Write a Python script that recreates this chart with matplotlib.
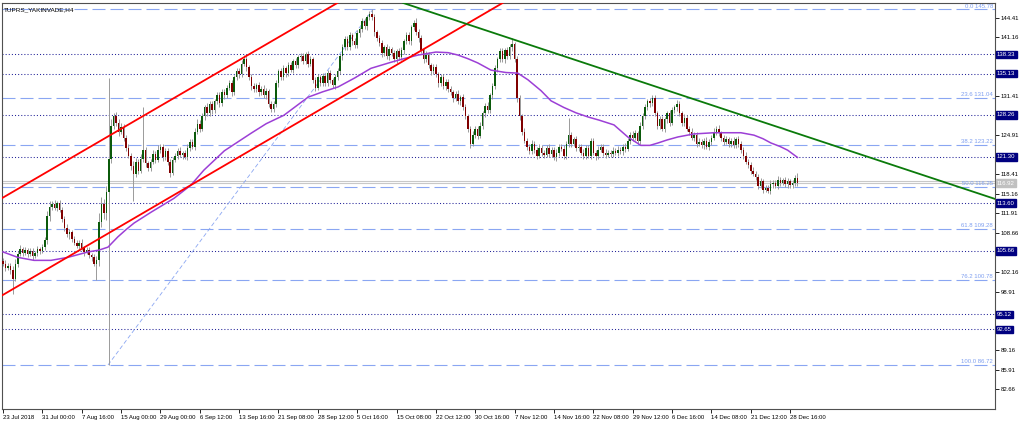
import matplotlib
matplotlib.use("Agg")
import matplotlib.pyplot as plt
import matplotlib.transforms as mtransforms

plt.rcParams['font.family'] = ['Liberation Sans', 'DejaVu Sans']

title = "TUPRS_YAKINVADE,H4"
first_open = 104.0
closes = [
    103.5, 102.8, 103.2, 102.5, 101.0, 103.5, 105.2, 106.0, 105.4, 105.8,
    105.2, 105.6, 104.8, 105.3, 106.0, 105.7, 106.3, 107.4, 111.5, 113.0,
    113.5, 112.8, 113.6, 112.5, 111.0, 109.5, 108.4, 108.8, 107.6, 107.0,
    106.5, 107.0, 106.2, 105.5, 105.8, 105.0, 104.6, 103.5, 104.2, 110.5,
    113.5, 112.0, 115.5, 121.0, 126.5, 128.0, 127.0, 125.5, 126.2, 124.5,
    122.8, 121.5, 119.8, 118.5, 120.5, 119.0, 121.0, 122.5, 120.2, 119.5,
    120.5, 121.8, 120.8, 122.5, 123.0, 121.2, 122.2, 120.5, 118.6, 120.8,
    121.5, 122.3, 121.6, 122.0, 121.3, 122.8, 123.8, 123.0, 125.5, 126.8,
    126.0, 128.0, 129.5, 128.5, 130.0, 129.0, 130.5, 131.5, 130.2, 132.0,
    131.5, 132.8, 133.5, 132.0, 134.5, 135.5, 135.0, 136.8, 137.5, 136.2,
    134.5, 133.0, 132.5, 133.2, 132.0, 132.6, 131.5, 132.2, 130.0, 129.3,
    130.0, 133.5, 135.5, 134.5, 136.0, 135.2, 136.5, 135.8, 137.2, 136.5,
    137.8, 138.0, 137.2, 138.3, 136.8, 137.5, 134.0, 132.8, 134.5, 133.5,
    134.8, 133.6, 135.2, 134.0, 133.2, 134.5, 135.5, 138.0, 139.5, 140.8,
    139.5, 141.5, 140.5, 139.8, 141.8, 142.5, 143.8, 143.0, 144.5, 145.0,
    144.5, 142.0, 141.0, 140.2, 138.5, 139.5, 138.0, 139.2, 138.5, 137.5,
    138.8, 137.8, 139.0, 140.5, 141.5, 140.5, 142.8, 143.5, 142.0, 141.0,
    139.0, 137.5, 138.2, 136.5, 135.5, 136.2, 135.0, 133.5, 134.5, 133.0,
    133.8, 132.5, 132.0, 131.0, 131.8, 130.5, 131.2, 129.5, 128.0, 126.0,
    123.5, 125.0, 126.0, 124.8, 126.5, 128.5, 129.8, 129.0, 131.5, 133.0,
    136.0, 137.5, 138.8, 137.5, 139.0, 138.0, 139.5, 140.0, 137.5, 131.0,
    128.0, 125.5, 124.0, 123.0, 122.2, 123.5, 122.5, 121.5, 122.8, 122.0,
    121.6, 122.8, 121.8, 122.5, 121.2, 122.0, 123.0, 122.6, 121.5, 123.5,
    125.0, 123.5, 124.2, 122.8, 123.0, 122.0, 121.5, 122.8, 121.5, 124.0,
    122.0, 121.4, 122.5, 123.0, 122.0, 121.6, 122.0, 121.8, 122.3, 122.0,
    122.5, 122.2, 123.0, 122.6, 124.0, 125.0, 124.5, 125.2, 124.0, 126.5,
    128.0, 129.5, 130.5, 130.2, 131.0, 128.5, 126.5, 127.5, 126.0, 127.5,
    128.5, 127.0, 129.0, 129.5, 130.0, 128.5, 127.0, 127.8, 126.0, 125.5,
    124.5, 125.0, 123.5, 123.8, 123.2, 124.0, 123.0, 123.8, 124.5, 125.5,
    126.0, 125.2, 124.5, 123.8, 124.2, 123.5, 124.0, 123.2, 124.2, 123.5,
    122.5, 121.5, 120.5, 120.0, 119.0, 118.5, 118.0, 116.5, 117.2, 115.8,
    116.2, 115.6, 116.8, 117.0, 116.5, 117.5, 117.0, 117.4, 116.8, 117.2,
    116.6, 117.0, 117.8, 116.9,
]
upper_wicks = [
    0.5, 0.6, 0.4, 0.5, 0.6, 0.8, 0.5, 0.6, 0.4, 0.5,
    0.4, 0.6, 0.5, 0.3, 0.5, 0.4, 0.6, 0.5, 0.8, 0.9,
    0.5, 0.7, 0.3, 0.6, 0.5, 0.4, 0.6, 0.5, 0.4, 0.5,
    0.5, 0.4, 0.6, 0.3, 0.5, 0.6, 0.4, 0.5, 0.7, 1.5,
    1.2, 0.8, 0.9, 13.4, 1.0, 0.6, 0.8, 0.5, 0.7, 0.6,
    0.5, 0.6, 0.4, 0.8, 0.6, 0.5, 0.7, 7.0, 0.5, 0.4,
    0.4, 0.6, 0.5, 0.7, 0.5, 0.4, 0.6, 0.5, 0.4, 0.5,
    0.5, 0.4, 0.6, 0.3, 0.5, 0.6, 0.4, 0.5, 0.6, 0.7,
    0.6, 0.5, 0.4, 0.7, 0.5, 0.6, 0.4, 0.5, 0.6, 0.5,
    0.5, 0.4, 0.6, 0.5, 0.4, 0.6, 0.5, 0.6, 0.7, 0.5,
    0.4, 0.5, 0.6, 0.4, 0.5, 0.4, 0.6, 0.5, 0.4, 0.5,
    0.5, 0.6, 0.4, 0.5, 0.6, 0.4, 0.5, 0.6, 0.4, 0.5,
    0.4, 0.5, 0.6, 0.4, 0.5, 0.6, 0.4, 0.5, 0.6, 0.4,
    0.5, 0.4, 0.6, 0.5, 0.4, 0.6, 0.5, 0.4, 0.6, 0.5,
    0.6, 0.5, 0.4, 0.6, 0.5, 0.4, 0.6, 0.5, 0.4, 0.5,
    0.78, 0.5, 0.4, 0.6, 0.5, 0.4, 0.6, 0.5, 0.4, 0.5,
    0.4, 0.5, 0.6, 0.4, 0.5, 0.6, 0.4, 0.5, 0.9, 0.5,
    0.5, 0.4, 0.6, 0.5, 0.4, 0.6, 0.5, 0.4, 0.6, 0.5,
    0.4, 0.5, 0.6, 0.4, 0.5, 0.6, 0.4, 0.5, 0.6, 0.4,
    0.5, 0.6, 0.4, 0.5, 0.6, 0.4, 0.5, 0.6, 0.4, 0.5,
    0.6, 0.4, 0.5, 0.6, 0.4, 0.5, 0.6, 1.0, 0.4, 0.5,
    0.5, 0.4, 0.6, 0.5, 0.4, 0.6, 0.5, 0.4, 0.6, 0.5,
    0.4, 0.5, 0.6, 0.4, 0.5, 0.6, 0.4, 0.5, 0.6, 0.4,
    2.7, 0.5, 0.4, 0.6, 0.5, 0.4, 0.6, 0.5, 0.4, 0.5,
    0.5, 0.4, 0.6, 0.5, 0.4, 0.6, 0.5, 0.4, 0.6, 0.5,
    0.6, 0.5, 0.4, 0.6, 0.5, 0.4, 0.6, 0.5, 0.4, 0.6,
    0.5, 0.6, 0.4, 0.5, 0.5, 0.6, 0.4, 0.5, 0.6, 0.4,
    0.4, 0.5, 0.6, 0.4, 0.7, 0.5, 0.4, 0.6, 0.5, 0.4,
    0.6, 0.4, 0.5, 0.6, 0.4, 0.5, 0.6, 0.4, 0.5, 0.6,
    0.5, 0.6, 0.4, 0.5, 0.6, 0.4, 0.5, 0.6, 0.4, 0.5,
    0.4, 0.5, 0.6, 0.4, 0.5, 0.6, 0.4, 0.5, 0.6, 0.4,
    0.5, 0.4, 0.6, 0.5, 0.4, 0.6, 0.5, 0.4, 0.6, 0.5,
    0.4, 0.5, 0.5, 0.8,
]
lower_wicks = [
    0.4, 0.5, 0.3, 0.6, 2.5, 0.4, 0.5, 0.3, 0.6, 0.4,
    0.5, 0.4, 0.6, 0.3, 0.4, 0.5, 0.3, 0.4, 0.6, 0.8,
    0.6, 0.4, 0.5, 0.3, 0.6, 0.5, 0.4, 0.7, 0.5, 0.4,
    0.4, 0.5, 0.3, 0.6, 0.4, 0.5, 0.6, 0.4, 2.7, 1.0,
    0.8, 1.0, 1.2, 28.78, 0.8, 0.5, 0.6, 0.7, 0.4, 0.5,
    0.6, 0.4, 0.7, 4.5, 0.5, 0.6, 0.4, 0.5, 0.6, 0.5,
    0.5, 0.4, 0.6, 0.3, 0.5, 0.6, 0.4, 0.5, 0.6, 0.4,
    0.4, 0.5, 0.3, 0.6, 0.4, 0.5, 0.6, 0.4, 0.5, 0.4,
    0.5, 0.4, 0.6, 0.5, 0.4, 0.6, 0.5, 0.4, 0.7, 0.5,
    0.6, 0.5, 0.4, 0.6, 0.5, 0.4, 0.6, 0.5, 0.4, 0.6,
    0.5, 0.6, 0.4, 0.5, 0.6, 0.4, 0.5, 0.6, 0.4, 0.6,
    0.5, 0.4, 0.6, 0.5, 0.4, 0.6, 0.5, 0.4, 0.6, 0.5,
    0.5, 0.6, 0.4, 0.5, 0.6, 0.4, 0.5, 0.6, 0.4, 0.5,
    0.4, 0.5, 0.6, 0.4, 0.5, 0.6, 0.4, 0.5, 0.6, 0.4,
    0.5, 0.4, 0.6, 0.5, 0.4, 0.6, 0.5, 0.4, 0.6, 0.5,
    0.5, 0.6, 0.4, 0.5, 0.6, 0.4, 0.5, 0.6, 0.4, 0.5,
    0.6, 0.4, 0.5, 0.6, 0.4, 0.5, 0.6, 0.4, 0.5, 0.6,
    0.5, 0.6, 0.4, 0.5, 0.6, 0.4, 0.5, 0.6, 0.4, 0.5,
    0.6, 0.4, 0.5, 0.6, 0.4, 0.5, 0.6, 0.4, 0.5, 0.6,
    0.7, 0.4, 0.5, 0.6, 0.4, 0.5, 0.6, 0.4, 0.5, 0.6,
    0.5, 0.6, 0.4, 0.5, 0.6, 0.4, 0.5, 0.6, 0.4, 0.6,
    0.6, 0.5, 0.4, 0.6, 0.5, 0.4, 0.6, 0.5, 0.4, 0.6,
    0.5, 0.4, 0.6, 0.5, 0.4, 0.6, 0.5, 0.4, 0.6, 0.5,
    0.6, 0.5, 0.4, 0.6, 0.5, 0.4, 0.6, 0.5, 0.4, 0.6,
    0.4, 0.6, 0.5, 0.4, 0.6, 0.5, 0.4, 0.6, 0.5, 0.4,
    0.5, 0.4, 0.6, 0.5, 0.4, 0.6, 0.5, 0.4, 0.6, 0.5,
    0.6, 0.5, 0.4, 0.6, 0.5, 0.4, 0.6, 0.5, 0.4, 0.6,
    0.5, 0.6, 0.4, 0.5, 0.6, 0.4, 0.5, 0.6, 0.4, 0.5,
    0.4, 0.5, 0.6, 0.4, 0.5, 0.6, 0.4, 0.5, 0.6, 0.4,
    0.6, 0.4, 0.5, 0.6, 0.4, 0.5, 0.6, 0.4, 0.5, 0.6,
    0.5, 0.6, 0.4, 0.5, 0.6, 0.4, 0.5, 0.6, 0.4, 0.5,
    0.4, 0.3, 0.5, 0.6, 0.4, 0.5, 0.6, 0.4, 0.5, 0.6,
    0.5, 0.4, 0.6, 0.4,
]

# moving average (purple)
ma_bars = [0, 6, 12.6, 19.5, 26.4, 34.6, 39, 42.7, 46.7, 50, 53.3, 60.2, 69.5, 76.4, 81.7,
           90, 100.8, 107, 114.2, 124, 130, 136.2, 143, 149.6, 157.7, 163, 168.7, 176, 181,
           185, 189, 193, 198.4, 204.5, 209.3, 213.4, 218.7, 222.8, 228, 233, 238, 242.3,
           248.4, 254, 259.3, 263, 266.3, 270, 274.4, 280.9, 289, 300, 305.3, 309, 312.2,
           316, 319, 323]
ma_vals = [105.5, 104.6, 104.1, 104.1, 104.6, 105.5, 105.8, 106.3, 108.0, 109.2, 110.3, 112.1,
           114.4, 116.6, 119.1, 122.3, 125.2, 126.8, 128.2, 131.2, 132.1, 132.9, 134.4, 136.0,
           137.0, 137.6, 138.2, 138.7, 138.6, 138.2, 137.6, 136.9, 135.7, 135.3, 135.2, 134.1,
           132.3, 130.6, 129.5, 128.6, 127.9, 127.4, 126.6, 124.6, 123.2, 123.2, 123.6, 124.1,
           124.6, 125.1, 125.3, 125.3, 124.9, 124.3, 123.6, 123.0, 122.4, 121.2]

fib_levels = ["0.0", "23.6", "38.2", "50.0", "61.8", "76.2", "100.0"]
fib_prices = [145.78, 131.04, 123.22, 116.25, 109.28, 100.78, 86.72]
fib_anchor_bars = [42.7, 150.4]
fib_anchor_prices = [86.72, 145.78]

sr_levels = [138.33, 135.13, 128.26, 121.30, 113.60, 105.66, 95.12, 92.65]
sr_labels = ["138.33", "135.13", "128.26", "121.30", "113.60", "105.66", "95.12", "92.65"]

channel_upper_bars = [-0.8, 100.8]
channel_upper_prices = [114.34, 138.5]
channel_lower_bars = [-0.8, 100.8]
channel_lower_prices = [98.18, 122.43]
green_bars = [162.0, 403.7]
green_prices = [146.95, 114.25]

bid_ask = [117.35, 116.95]
current_label = "116.92"

ytick_vals = [144.41, 141.16, 137.91, 134.66, 131.41, 128.16, 124.91, 121.66, 118.41,
              115.16, 111.91, 108.66, 105.41, 102.16, 98.91, 95.66, 92.41, 89.16, 85.91, 82.66]
xtick_bars = [0, 16, 32, 48, 64, 80, 96, 112, 128, 144, 160, 176, 192, 208, 224, 240,
              256, 272, 288, 304, 320]
xtick_labels = ["23 Jul 2018", "31 Jul 00:00", "7 Aug 16:00", "15 Aug 00:00", "29 Aug 00:00",
                "6 Sep 12:00", "13 Sep 16:00", "21 Sep 08:00", "28 Sep 12:00", "5 Oct 16:00",
                "15 Oct 08:00", "22 Oct 12:00", "30 Oct 16:00", "7 Nov 12:00", "14 Nov 16:00",
                "22 Nov 08:00", "29 Nov 12:00", "6 Dec 16:00", "14 Dec 08:00", "21 Dec 12:00",
                "28 Dec 16:00"]

FS = 4.3
fig = plt.figure(figsize=(10.24, 4.22), dpi=100)
ax = fig.add_axes([2 / 1024, 13 / 422, 993 / 1024, 406 / 422])
ax.set_xlim(-0.4, 403.3)
ax.set_ylim(79.41, 146.85)

# horizontal levels
for p in fib_prices:
    ax.axhline(p, color='#8aa6f2', lw=0.8, dashes=(11.7, 4.5), zorder=1)
for p in sr_levels:
    ax.axhline(p, color='#232398', lw=0.75, dashes=(1, 2), zorder=1)
for p in bid_ask:
    ax.axhline(p, color='#c8c8c8', lw=0.8, zorder=1)

# fib diagonal
ax.plot(fib_anchor_bars, fib_anchor_prices, color='#8aa6f2', lw=0.6, dashes=(5, 3), zorder=1)

# candles
n = len(closes)
xs = list(range(n))
opens = [first_open] + closes[:-1]
highs = [max(o, c) + u for o, c, u in zip(opens, closes, upper_wicks[:n])]
lows = [min(o, c) - l for o, c, l in zip(opens, closes, lower_wicks[:n])]
ax.vlines(xs, lows, highs, color='#9a9a9a', lw=0.7, zorder=3)
bull_col, bear_col = '#0b5a0b', '#800000'
heights = [max(abs(c - o), 0.12) for o, c in zip(opens, closes)]
bottoms = [min(o, c) for o, c in zip(opens, closes)]
cols = [bull_col if c >= o else bear_col for o, c in zip(opens, closes)]
ax.bar(xs, heights, bottom=bottoms, width=0.62, color=cols, linewidth=0, zorder=4)

# moving average
ax.plot(ma_bars, ma_vals, color='#9c3fd6', lw=1.1, zorder=5)

# trend lines
ax.axline((channel_upper_bars[0], channel_upper_prices[0]), (channel_upper_bars[1], channel_upper_prices[1]),
          color='#ff0000', lw=1.3, zorder=6)
ax.axline((channel_lower_bars[0], channel_lower_prices[0]), (channel_lower_bars[1], channel_lower_prices[1]),
          color='#ff0000', lw=1.3, zorder=6)
ax.axline((green_bars[0], green_prices[0]), (green_bars[1], green_prices[1]),
          color='#0a7a0a', lw=1.3, zorder=6)

# fib labels
trans = mtransforms.blended_transform_factory(ax.transAxes, ax.transData)
for lv, p in zip(fib_levels, fib_prices):
    ax.text(0.998, p + 0.15, f"{lv} {p:.2f}", transform=trans, ha='right', va='bottom',
            fontsize=FS, color='#7f9ff0', zorder=7)

# axes styling: right price scale, tick labels hidden under level boxes are left out
box_levels = sr_levels + [bid_ask[1]]
ytick_text = []
for v in ytick_vals:
    covered = any(abs(v - b) < 1.25 for b in box_levels)
    ytick_text.append("" if covered else f"{v:.2f}")
ax.yaxis.tick_right()
ax.set_yticks(ytick_vals)
ax.set_yticklabels(ytick_text, fontsize=FS)
ax.tick_params(axis='y', length=3, width=0.6, pad=1, colors='black')
ax.set_xticks(xtick_bars)
ax.set_xticklabels(xtick_labels, fontsize=FS, ha='left')
ax.tick_params(axis='x', length=3, width=0.6, pad=1.5)
for s in ax.spines.values():
    s.set_color('#505050')
    s.set_linewidth(0.8)

# level labels on right
for p, lab in zip(sr_levels, sr_labels):
    ax.text(1.002, p, lab, transform=trans, ha='left', va='center', fontsize=FS, color='white',
            bbox=dict(boxstyle='square,pad=0.2', fc='#000080', ec='#000080'), clip_on=False, zorder=8)
ax.text(1.002, bid_ask[1], current_label, transform=trans, ha='left', va='center', fontsize=FS,
        color='white', bbox=dict(boxstyle='square,pad=0.2', fc='#c0c0c0', ec='#c0c0c0'),
        clip_on=False, zorder=8)

ax.text(0.002, 0.99, title, transform=ax.transAxes, ha='left', va='top', fontsize=FS + 0.3, color='black')

fig.savefig("out.png", dpi=100)
